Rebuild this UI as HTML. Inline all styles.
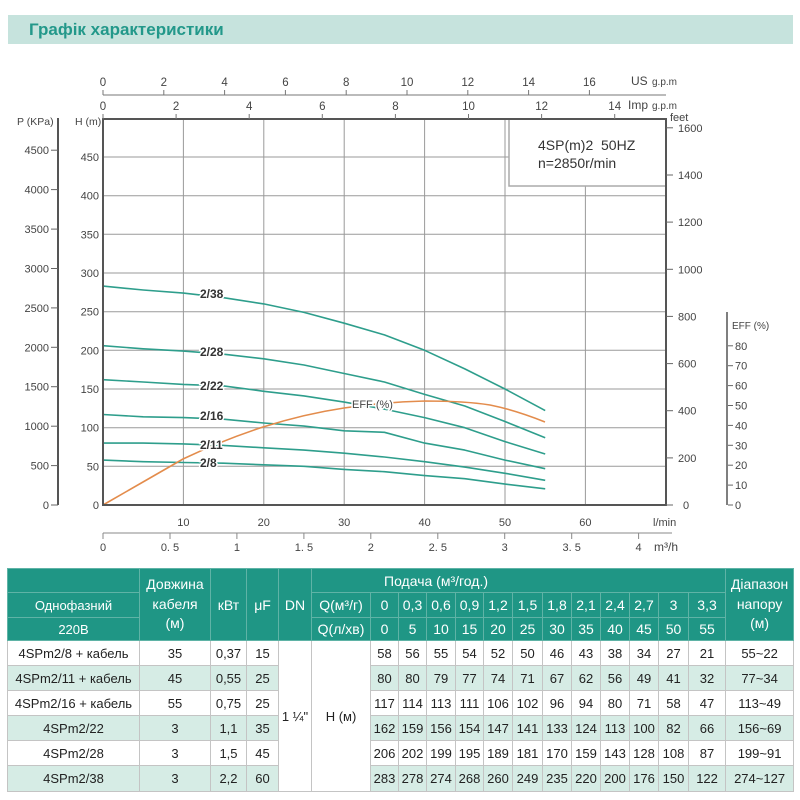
<!DOCTYPE html>
<html><head><meta charset="utf-8">
<style>
html,body{margin:0;padding:0;background:#fff;}
body{width:800px;height:800px;position:relative;overflow:hidden;font-family:"Liberation Sans",Arial,sans-serif;}
.bar{position:absolute;left:8px;top:15px;width:785px;height:29px;background:#c6e3dd;}
.bar span{position:absolute;left:21px;top:0;line-height:29px;font-weight:bold;font-size:17px;color:#23988a;}
svg{position:absolute;left:0;top:0;}
table{position:absolute;left:7px;top:568px;width:786px;border-collapse:collapse;table-layout:fixed;font-family:"Liberation Sans",Arial,sans-serif;}
td{padding:0;text-align:center;vertical-align:middle;white-space:nowrap;overflow:hidden;}
tr.h td{background:#1f9685;color:#fff;font-size:14px;border:1px solid #5fb3a6;}
tr.d td{font-size:13px;color:#222;border:1px solid #c4c4c4;}
tr.m td{background:#d6ece5;}
tr.d td.w{background:#fff;}
</style></head><body>
<div class="bar"><span>Графік характеристики</span></div>

<svg width="800" height="560" viewBox="0 0 800 560" font-family="Liberation Sans, Arial, sans-serif">
  <!-- gridlines -->
  <g stroke="#9a9a9a" stroke-width="1">
    <line x1="103" y1="466.3" x2="666" y2="466.3"/>
    <line x1="103" y1="427.7" x2="666" y2="427.7"/>
    <line x1="103" y1="389" x2="666" y2="389"/>
    <line x1="103" y1="350.3" x2="666" y2="350.3"/>
    <line x1="103" y1="311.7" x2="666" y2="311.7"/>
    <line x1="103" y1="273" x2="666" y2="273"/>
    <line x1="103" y1="234.3" x2="666" y2="234.3"/>
    <line x1="103" y1="195.7" x2="666" y2="195.7"/>
    <line x1="103" y1="157" x2="666" y2="157"/>
    <line x1="183.4" y1="119" x2="183.4" y2="505"/>
    <line x1="263.8" y1="119" x2="263.8" y2="505"/>
    <line x1="344.2" y1="119" x2="344.2" y2="505"/>
    <line x1="424.6" y1="119" x2="424.6" y2="505"/>
    <line x1="505" y1="119" x2="505" y2="505"/>
    <line x1="585.4" y1="119" x2="585.4" y2="505"/>
  </g>
  <!-- info box -->
  <rect x="509" y="119" width="157" height="67" fill="#fff" stroke="#aaa" stroke-width="1.5"/>
  <text x="538" y="150" font-size="14" fill="#333">4SP(m)2&#160; 50HZ</text>
  <text x="538" y="168" font-size="14" fill="#333">n=2850r/min</text>

  <!-- curves -->
  <g fill="none" stroke="#2e9e8c" stroke-width="1.6" stroke-linejoin="round">
    <polyline points="103,460.1 143.2,461.7 183.4,462.5 223.6,463.2 263.8,464.8 304,466.3 344.2,469.4 384.4,471.7 424.6,475.6 464.8,478.7 505,484.1 545.2,488.8"/>
    <polyline points="103,443.1 143.2,443.1 183.4,443.9 223.6,445.4 263.8,447.8 304,450.1 344.2,453.2 384.4,457 424.6,461.7 464.8,467.1 505,473.3 545.2,480.3"/>
    <polyline points="103,414.5 143.2,416.8 183.4,417.6 223.6,419.2 263.8,423 304,426.1 344.2,430.8 384.4,432.3 424.6,443.1 464.8,450.1 505,460.1 545.2,468.7"/>
    <polyline points="103,379.7 143.2,382 183.4,384.4 223.6,385.9 263.8,391.3 304,395.9 344.2,402.1 384.4,409.1 424.6,417.6 464.8,427.7 505,441.6 545.2,454"/>
    <polyline points="103,345.7 143.2,348.8 183.4,351.1 223.6,354.2 263.8,358.8 304,365 344.2,373.5 384.4,382 424.6,394.4 464.8,406 505,421.5 545.2,437.7"/>
    <polyline points="103,286.1 143.2,290 183.4,293.1 223.6,297.7 263.8,303.9 304,312.4 344.2,323.2 384.4,334.9 424.6,350.3 464.8,368.9 505,389 545.2,410.6"/>
  </g>
  <path d="M103,505 L143,482 L183,459 Q223,440 263,427 Q304,414 344,408 Q384,402 425,401 Q465,401 490,405 Q515,410 545,422" fill="none" stroke="#e38c4c" stroke-width="1.6"/>

  <!-- curve labels -->
  <g font-size="12" font-weight="bold" fill="#333" stroke="#fff" stroke-width="3" paint-order="stroke">
    <text x="200" y="298">2/38</text>
    <text x="200" y="356">2/28</text>
    <text x="200" y="390">2/22</text>
    <text x="200" y="420">2/16</text>
    <text x="200" y="449">2/11</text>
    <text x="200" y="467">2/8</text>
  </g>
  <text x="352" y="408" font-size="11" fill="#444" stroke="#fff" stroke-width="3" paint-order="stroke">EFF (%)</text>

  <!-- frame -->
  <rect x="103" y="119" width="563" height="386" fill="none" stroke="#555" stroke-width="2"/>

  <!-- top US axis -->
  <g stroke="#777" stroke-width="1">
    <line x1="103" y1="95" x2="666" y2="95"/>
    <line x1="103" y1="95" x2="103" y2="90"/>
    <line x1="163.8" y1="95" x2="163.8" y2="90"/>
    <line x1="224.6" y1="95" x2="224.6" y2="90"/>
    <line x1="285.4" y1="95" x2="285.4" y2="90"/>
    <line x1="346.2" y1="95" x2="346.2" y2="90"/>
    <line x1="407" y1="95" x2="407" y2="90"/>
    <line x1="467.8" y1="95" x2="467.8" y2="90"/>
    <line x1="528.6" y1="95" x2="528.6" y2="90"/>
    <line x1="589.4" y1="95" x2="589.4" y2="90"/>
    <line x1="103" y1="119" x2="103" y2="114"/>
    <line x1="176.1" y1="119" x2="176.1" y2="114"/>
    <line x1="249.2" y1="119" x2="249.2" y2="114"/>
    <line x1="322.3" y1="119" x2="322.3" y2="114"/>
    <line x1="395.4" y1="119" x2="395.4" y2="114"/>
    <line x1="468.5" y1="119" x2="468.5" y2="114"/>
    <line x1="541.6" y1="119" x2="541.6" y2="114"/>
    <line x1="614.7" y1="119" x2="614.7" y2="114"/>
  </g>
  <g font-size="11.5" fill="#444" text-anchor="middle">
    <text x="103" y="86">0</text><text x="163.8" y="86">2</text><text x="224.6" y="86">4</text>
    <text x="285.4" y="86">6</text><text x="346.2" y="86">8</text><text x="407" y="86">10</text>
    <text x="467.8" y="86">12</text><text x="528.6" y="86">14</text><text x="589.4" y="86">16</text>
    <text x="103" y="110">0</text><text x="176.1" y="110">2</text><text x="249.2" y="110">4</text>
    <text x="322.3" y="110">6</text><text x="395.4" y="110">8</text><text x="468.5" y="110">10</text>
    <text x="541.6" y="110">12</text><text x="614.7" y="110">14</text>
  </g>
  <text x="631" y="85" font-size="12" fill="#444">US</text>
  <text x="652" y="85" font-size="10" fill="#444">g.p.m</text>
  <text x="628" y="109" font-size="12" fill="#444">Imp</text>
  <text x="652" y="109" font-size="10" fill="#444">g.p.m</text>
  <text x="670" y="121" font-size="11" fill="#444">feet</text>

  <!-- left P axis -->
  <line x1="58" y1="118" x2="58" y2="505" stroke="#555" stroke-width="2"/>
  <g stroke="#666" stroke-width="1">
    <line x1="51" y1="505" x2="58" y2="505"/><line x1="51" y1="465.6" x2="58" y2="465.6"/>
    <line x1="51" y1="426.2" x2="58" y2="426.2"/><line x1="51" y1="386.7" x2="58" y2="386.7"/>
    <line x1="51" y1="347.3" x2="58" y2="347.3"/><line x1="51" y1="307.9" x2="58" y2="307.9"/>
    <line x1="51" y1="268.5" x2="58" y2="268.5"/><line x1="51" y1="229.1" x2="58" y2="229.1"/>
    <line x1="51" y1="189.6" x2="58" y2="189.6"/><line x1="51" y1="150.2" x2="58" y2="150.2"/>
  </g>
  <g font-size="11" fill="#444" text-anchor="end">
    <text x="49" y="509">0</text><text x="49" y="469.6">500</text><text x="49" y="430.2">1000</text>
    <text x="49" y="390.7">1500</text><text x="49" y="351.3">2000</text><text x="49" y="311.9">2500</text>
    <text x="49" y="272.5">3000</text><text x="49" y="233.1">3500</text><text x="49" y="193.6">4000</text>
    <text x="49" y="154.2">4500</text>
  </g>
  <text x="17" y="125" font-size="10.5" fill="#444">P (KPa)</text>
  <text x="75" y="125" font-size="10.5" fill="#444">H (m)</text>

  <!-- H axis labels -->
  <g font-size="11" fill="#444" text-anchor="end">
    <text x="99" y="509">0</text><text x="99" y="470.3">50</text><text x="99" y="431.7">100</text>
    <text x="99" y="393">150</text><text x="99" y="354.3">200</text><text x="99" y="315.7">250</text>
    <text x="99" y="277">300</text><text x="99" y="238.3">350</text><text x="99" y="199.7">400</text>
    <text x="99" y="161">450</text>
  </g>

  <!-- feet axis -->
  <g stroke="#666" stroke-width="1">
    <line x1="666" y1="505" x2="673" y2="505"/><line x1="666" y1="457.9" x2="673" y2="457.9"/>
    <line x1="666" y1="410.7" x2="673" y2="410.7"/><line x1="666" y1="363.6" x2="673" y2="363.6"/>
    <line x1="666" y1="316.4" x2="673" y2="316.4"/><line x1="666" y1="269.3" x2="673" y2="269.3"/>
    <line x1="666" y1="222.1" x2="673" y2="222.1"/><line x1="666" y1="175" x2="673" y2="175"/>
    <line x1="666" y1="127.8" x2="673" y2="127.8"/>
  </g>
  <g font-size="11" fill="#444">
    <text x="683" y="509">0</text><text x="678" y="461.9">200</text><text x="678" y="414.7">400</text>
    <text x="678" y="367.6">600</text><text x="678" y="320.4">800</text><text x="678" y="273.3">1000</text>
    <text x="678" y="226.1">1200</text><text x="678" y="179">1400</text><text x="678" y="131.8">1600</text>
  </g>

  <!-- EFF axis -->
  <line x1="727" y1="312" x2="727" y2="505" stroke="#555" stroke-width="1.5"/>
  <g stroke="#666" stroke-width="1">
    <line x1="728" y1="505" x2="733" y2="505"/><line x1="728" y1="485.1" x2="733" y2="485.1"/>
    <line x1="728" y1="465.2" x2="733" y2="465.2"/><line x1="728" y1="445.3" x2="733" y2="445.3"/>
    <line x1="728" y1="425.4" x2="733" y2="425.4"/><line x1="728" y1="405.5" x2="733" y2="405.5"/>
    <line x1="728" y1="385.6" x2="733" y2="385.6"/><line x1="728" y1="365.7" x2="733" y2="365.7"/>
    <line x1="728" y1="345.8" x2="733" y2="345.8"/>
  </g>
  <g font-size="11" fill="#444">
    <text x="735" y="509">0</text><text x="735" y="489.1">10</text><text x="735" y="469.2">20</text>
    <text x="735" y="449.3">30</text><text x="735" y="429.4">40</text><text x="735" y="409.5">50</text>
    <text x="735" y="389.6">60</text><text x="735" y="369.7">70</text><text x="735" y="349.8">80</text>
  </g>
  <text x="732" y="329" font-size="10" fill="#444">EFF (%)</text>

  <!-- bottom axes -->
  <g font-size="11" fill="#444" text-anchor="middle">
    <text x="183.4" y="526">10</text><text x="263.8" y="526">20</text><text x="344.2" y="526">30</text>
    <text x="424.6" y="526">40</text><text x="505" y="526">50</text><text x="585.4" y="526">60</text>
  </g>
  <text x="653" y="526" font-size="11" fill="#444">l/min</text>
  <line x1="103" y1="533" x2="672" y2="533" stroke="#888" stroke-width="1"/>
  <g stroke="#888" stroke-width="1">
    <line x1="103" y1="533" x2="103" y2="539"/><line x1="170" y1="533" x2="170" y2="539"/>
    <line x1="236.9" y1="533" x2="236.9" y2="539"/><line x1="303.9" y1="533" x2="303.9" y2="539"/>
    <line x1="370.8" y1="533" x2="370.8" y2="539"/><line x1="437.8" y1="533" x2="437.8" y2="539"/>
    <line x1="504.7" y1="533" x2="504.7" y2="539"/><line x1="571.7" y1="533" x2="571.7" y2="539"/>
    <line x1="638.6" y1="533" x2="638.6" y2="539"/>
  </g>
  <g font-size="11" fill="#444" text-anchor="middle">
    <text x="103" y="551">0</text><text x="170" y="551">0. 5</text><text x="236.9" y="551">1</text>
    <text x="303.9" y="551">1. 5</text><text x="370.8" y="551">2</text><text x="437.8" y="551">2. 5</text>
    <text x="504.7" y="551">3</text><text x="571.7" y="551">3. 5</text><text x="638.6" y="551">4</text>
  </g>
  <text x="654" y="551" font-size="12" fill="#444">m³/h</text>
</svg>

<table>
<colgroup>
<col style="width:132px"><col style="width:71px"><col style="width:36px"><col style="width:32px"><col style="width:33px"><col style="width:59px">
<col style="width:28px"><col style="width:28px"><col style="width:29px"><col style="width:28px"><col style="width:29px"><col style="width:30px">
<col style="width:29px"><col style="width:29px"><col style="width:29px"><col style="width:29px"><col style="width:30px"><col style="width:37px">
<col style="width:68px">
</colgroup>
<tr class="h" style="height:24px">
<td></td>
<td rowspan="3" style="line-height:19.5px">Довжина<br>кабеля<br>(м)</td>
<td rowspan="3">кВт</td>
<td rowspan="3">μF</td>
<td rowspan="3">DN</td>
<td colspan="13" style="text-align:left;padding-left:72px">Подача (м³/год.)</td>
<td rowspan="3" style="line-height:19.5px">Діапазон<br>напору<br>(м)</td>
</tr>
<tr class="h" style="height:25px">
<td style="font-size:13px">Однофазний</td><td>Q(м³/г)</td>
<td>0</td><td>0,3</td><td>0,6</td><td>0,9</td><td>1,2</td><td>1,5</td><td>1,8</td><td>2,1</td><td>2,4</td><td>2,7</td><td>3</td><td>3,3</td>
</tr>
<tr class="h" style="height:23px">
<td style="font-size:13px">220В</td><td>Q(л/хв)</td>
<td>0</td><td>5</td><td>10</td><td>15</td><td>20</td><td>25</td><td>30</td><td>35</td><td>40</td><td>45</td><td>50</td><td>55</td>
</tr>
<tr class="d" style="height:25px">
<td>4SPm2/8 + кабель</td><td>35</td><td>0,37</td><td>15</td>
<td rowspan="6" class="w">1 ¼"</td><td rowspan="6" class="w">H (м)</td>
<td>58</td><td>56</td><td>55</td><td>54</td><td>52</td><td>50</td><td>46</td><td>43</td><td>38</td><td>34</td><td>27</td><td>21</td><td>55~22</td>
</tr>
<tr class="d m" style="height:25px">
<td>4SPm2/11 + кабель</td><td>45</td><td>0,55</td><td>25</td>
<td>80</td><td>80</td><td>79</td><td>77</td><td>74</td><td>71</td><td>67</td><td>62</td><td>56</td><td>49</td><td>41</td><td>32</td><td>77~34</td>
</tr>
<tr class="d" style="height:25px">
<td>4SPm2/16 + кабель</td><td>55</td><td>0,75</td><td>25</td>
<td>117</td><td>114</td><td>113</td><td>111</td><td>106</td><td>102</td><td>96</td><td>94</td><td>80</td><td>71</td><td>58</td><td>47</td><td>113~49</td>
</tr>
<tr class="d m" style="height:25px">
<td>4SPm2/22</td><td>3</td><td>1,1</td><td>35</td>
<td>162</td><td>159</td><td>156</td><td>154</td><td>147</td><td>141</td><td>133</td><td>124</td><td>113</td><td>100</td><td>82</td><td>66</td><td>156~69</td>
</tr>
<tr class="d" style="height:25px">
<td>4SPm2/28</td><td>3</td><td>1,5</td><td>45</td>
<td>206</td><td>202</td><td>199</td><td>195</td><td>189</td><td>181</td><td>170</td><td>159</td><td>143</td><td>128</td><td>108</td><td>87</td><td>199~91</td>
</tr>
<tr class="d m" style="height:26px">
<td>4SPm2/38</td><td>3</td><td>2,2</td><td>60</td>
<td>283</td><td>278</td><td>274</td><td>268</td><td>260</td><td>249</td><td>235</td><td>220</td><td>200</td><td>176</td><td>150</td><td>122</td><td>274~127</td>
</tr>
</table>
</body></html>
